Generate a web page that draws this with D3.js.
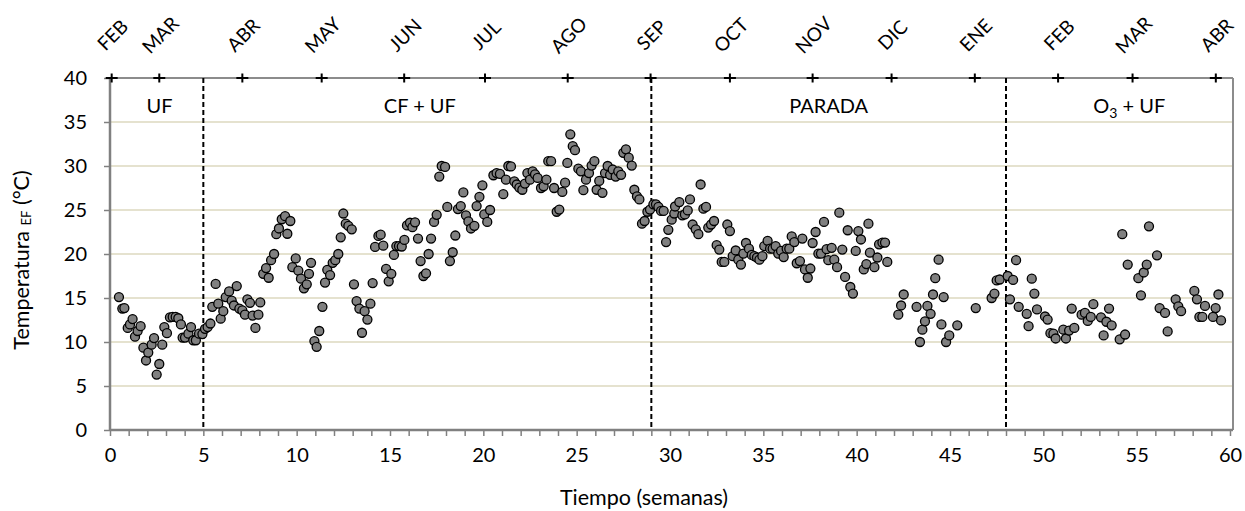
<!DOCTYPE html>
<html>
<head>
<meta charset="utf-8">
<script src="https://cdn.jsdelivr.net/npm/d3@7"></script>
<style>
  body { margin: 0; background: #ffffff; }
  text { font-family: Lato, "Open Sans", sans-serif; fill: #000; }
</style>
</head>
<body>
<script>
// month marks on the top axis (week where each month begins)
const meses = ["FEB","MAR","ABR","MAY","JUN","JUL","AGO","SEP","OCT","NOV","DIC","ENE","FEB","MAR","ABR"];
const mesSemana = [0.09, 2.64, 7.09, 11.34, 15.76, 20.09, 24.52, 28.96, 33.21, 37.64, 41.87, 46.33, 50.79, 54.78, 59.24];

// operating phases
const fases = ["UF", "CF + UF", "PARADA", "O3 + UF"];
const faseEtiqueta = [2.65, 16.6, 38.5, 54.6];
const cortes = [5, 29, 48];

const xTicks = [0, 5, 10, 15, 20, 25, 30, 35, 40, 45, 50, 55, 60];
const yTicks = [0, 5, 10, 15, 20, 25, 30, 35, 40];

// [semana, temperatura]
const puntos = [
  [0.48,15.1],[0.66,13.8],[0.77,13.85],[0.95,11.6],[1.07,12.0],[1.21,12.6],[1.34,10.6],[1.48,11.25],[1.64,11.8],
  [1.79,9.35],[1.93,7.9],[2.05,8.8],[2.23,9.7],[2.36,10.45],[2.5,6.3],[2.64,7.5],[2.8,9.7],[2.91,11.7],[3.05,11.0],
  [3.21,12.8],[3.36,12.85],[3.52,12.85],[3.66,12.7],[3.8,12.0],[3.89,10.5],[4.02,10.5],[4.2,10.95],[4.34,11.7],
  [4.46,10.2],[4.6,10.2],[4.77,10.95],[4.95,10.9],[5.09,11.5],[5.23,11.7],[5.38,12.1],[5.48,14.0],[5.66,16.6],
  [5.8,14.35],[5.93,12.65],[6.07,13.5],[6.2,15.1],[6.38,15.75],[6.52,14.7],[6.64,14.15],[6.79,16.35],[6.93,13.8],
  [7.09,13.6],[7.23,13.1],[7.36,14.85],[7.5,14.45],[7.64,13.0],[7.79,11.6],[7.95,13.1],[8.05,14.5],[8.21,17.75],
  [8.36,18.4],[8.5,17.3],[8.63,19.3],[8.79,20.0],[8.91,22.25],[9.05,22.9],[9.2,23.95],[9.38,24.3],[9.5,22.3],
  [9.66,23.75],[9.77,18.5],[9.95,19.5],
  [10.09,18.1],[10.23,17.2],[10.39,16.1],[10.54,16.55],[10.66,17.75],[10.77,19.0],[10.95,10.1],[11.07,9.45],
  [11.21,11.25],[11.38,14.0],[11.52,16.75],[11.64,18.2],[11.79,17.6],[11.93,19.0],[12.07,19.3],[12.23,20.0],
  [12.36,21.9],[12.5,24.6],[12.63,23.45],[12.77,23.2],[12.95,22.8],[13.07,16.55],[13.21,14.65],[13.36,13.8],
  [13.5,11.05],[13.64,13.5],[13.79,12.55],[13.95,14.35],[14.07,16.7],[14.2,20.8],[14.38,22.05],[14.5,22.2],
  [14.64,20.95],[14.79,18.3],[14.93,16.9],[15.07,17.75],[15.21,19.9],[15.34,20.9],[15.48,20.9],[15.63,20.85],
  [15.77,21.6],[15.91,23.25],[16.07,23.55],[16.2,23.05],[16.34,23.6],[16.5,21.75],[16.64,19.2],[16.79,17.5],
  [16.93,17.8],[17.07,20.0],[17.2,21.75],[17.36,23.65],[17.5,24.45],[17.64,28.8],[17.77,30.0],[17.95,29.9],
  [18.07,25.35],[18.21,19.2],[18.36,20.2],[18.5,22.1],[18.64,25.1],[18.79,25.45],[18.93,27.0],[19.07,24.4],
  [19.2,23.7],[19.34,22.9],[19.52,23.2],[19.64,25.45],[19.79,26.5],[19.95,27.8],[20.05,24.5],[20.21,23.65],
  [20.36,25.0],
  [20.54,28.95],[20.71,29.2],[20.89,29.1],[21.07,26.8],[21.21,28.45],[21.34,30.0],[21.48,29.95],[21.66,28.25],
  [21.79,27.9],[21.93,27.55],[22.09,27.3],[22.23,28.0],[22.36,29.2],[22.5,28.45],[22.64,29.4],[22.77,29.05],
  [22.91,28.65],[23.09,27.5],[23.23,27.7],[23.38,28.45],[23.48,30.55],[23.63,30.55],[23.79,27.5],[23.93,24.8],
  [24.07,25.05],[24.23,27.05],[24.38,28.1],[24.5,30.35],[24.66,33.6],[24.79,32.25],[24.91,31.8],[25.09,29.7],
  [25.23,29.4],[25.36,27.25],[25.5,28.45],[25.66,29.2],[25.8,30.05],[25.95,30.55],[26.07,27.3],[26.21,28.3],
  [26.38,26.95],[26.52,29.2],[26.66,30.0],[26.79,29.0],[26.93,29.6],[27.09,28.8],[27.23,29.4],[27.38,29.0],
  [27.5,31.5],[27.64,31.9],[27.79,30.95],[27.95,30.05],[28.09,27.3],[28.23,26.55],[28.36,26.2],[28.5,23.45],
  [28.64,23.75],[28.79,24.8],[28.93,25.05],[29.11,25.65],[29.25,25.65],[29.38,25.35],[29.52,24.9],[29.66,24.9],
  [29.79,21.35],[29.91,22.75],[30.09,23.9],[30.23,24.6],
  [30.27,25.4],[30.5,25.9],[30.66,24.4],[30.8,24.5],[30.95,24.95],[31.07,26.2],[31.21,23.35],[31.38,22.8],
  [31.52,22.25],[31.64,27.9],[31.79,25.15],[31.93,25.35],[32.05,23.0],[32.2,23.35],[32.36,23.75],[32.5,21.0],
  [32.64,20.5],[32.77,19.1],[32.91,19.1],[33.07,23.35],[33.21,22.6],[33.36,19.75],[33.52,20.4],[33.66,19.35],
  [33.8,18.8],[33.93,20.05],[34.07,21.25],[34.23,20.6],[34.38,19.9],[34.52,19.75],[34.66,19.6],[34.79,19.35],
  [34.95,19.75],[35.05,20.9],[35.23,21.5],[35.36,20.6],[35.5,20.6],[35.66,20.9],[35.8,20.05],[35.95,20.35],
  [36.09,19.65],[36.25,20.6],[36.39,20.6],[36.52,22.0],[36.66,21.35],[36.79,18.95],[36.96,19.2],[37.09,21.75],
  [37.23,18.25],[37.38,17.3],[37.52,18.35],[37.64,21.25],[37.8,22.5],[37.95,20.05],[38.09,20.05],[38.25,23.65],
  [38.39,20.55],[38.48,19.3],[38.66,20.7],[38.8,19.35],[38.95,18.5],[39.07,24.7],[39.23,20.5],[39.38,17.4],
  [39.52,22.7],[39.66,16.25],[39.8,15.5],[39.95,20.35],[40.09,22.6],[40.23,21.65],[40.38,18.25],[40.52,18.85],
  [40.63,23.45],[40.71,20.15],
  [40.95,18.5],[41.11,19.6],[41.2,21.1],[41.38,21.3],[41.52,21.3],[41.64,19.1],[42.23,13.1],[42.38,14.15],
  [42.52,15.4],[43.21,14.0],[43.39,10.0],[43.52,11.4],[43.66,12.35],[43.79,14.1],[43.96,13.2],[44.09,15.4],
  [44.21,17.25],[44.39,19.35],[44.54,12.0],[44.66,15.1],[44.79,10.0],[44.96,10.75],[45.39,11.9],[46.38,13.85],
  [47.23,15.0],[47.38,15.5],[47.5,17.0],[47.66,17.1],[48.09,17.5],[48.21,14.85],[48.38,17.05],[48.54,19.3],
  [48.68,14.0],[49.11,13.2],[49.21,11.8],[49.38,17.2],[49.52,15.5],[49.66,13.7],[50.09,12.9],[50.23,12.55],
  [50.38,11.0],[50.54,10.95],[50.66,10.4],
  [51.07,11.4],[51.21,10.4],[51.38,11.3],[51.52,13.8],[51.66,11.6],[52.05,13.1],[52.23,13.3],[52.38,12.4],
  [52.54,12.85],[52.68,14.3],[53.09,12.8],[53.23,10.75],[53.38,12.3],[53.52,13.8],[53.66,11.9],[54.09,10.3],
  [54.23,22.25],[54.38,10.85],[54.52,18.8],[55.09,17.25],[55.23,15.3],[55.38,17.9],[55.54,18.8],[55.66,23.15],
  [56.09,19.85],[56.23,13.85],[56.52,13.3],[56.66,11.2],[57.09,14.85],[57.23,14.05],[57.38,13.5],[58.09,15.8],
  [58.23,14.85],[58.36,12.85],[58.52,12.85],[58.66,14.1],[59.09,12.85],[59.23,13.85],[59.38,15.4],[59.52,12.45]
];

const W = 1245, H = 511;
// plot edges (px)
const pL = 110, pR = 1230, pT = 78, pB = 430;
const frameRight = 1233;
const fs = 20;

const svg = d3.select("body").append("svg")
  .attr("width", W)
  .attr("height", H);

const x = d3.scaleLinear().domain([0, 60]).range([pL, pR]);
const y = d3.scaleLinear().domain([0, 40]).range([pB, pT]);

// gridlines
svg.append("g")
  .selectAll("line")
  .data(yTicks.filter(d => d > 0 && d < 40))
  .join("line")
  .attr("x1", pL).attr("x2", frameRight)
  .attr("y1", d => y(d)).attr("y2", d => y(d))
  .attr("stroke", "#ddd8bf")
  .attr("stroke-width", 1.5);

// frame: top and right
svg.append("line")
  .attr("x1", pL).attr("x2", frameRight)
  .attr("y1", pT).attr("y2", pT)
  .attr("stroke", "#8c8c8c").attr("stroke-width", 2);
svg.append("line")
  .attr("x1", frameRight).attr("x2", frameRight)
  .attr("y1", pT).attr("y2", pB)
  .attr("stroke", "#8c8c8c").attr("stroke-width", 2);

// bottom axis
const xAxis = d3.axisBottom(x)
  .tickValues(d3.range(0, 61, 1))
  .tickSize(6)
  .tickFormat(d => xTicks.includes(d) ? d : "");
const gx = svg.append("g")
  .attr("transform", `translate(0,${pB})`)
  .call(xAxis);
gx.select(".domain").attr("stroke", "#808080").attr("stroke-width", 2.5)
  .attr("d", `M${pL},0H${frameRight}`);
gx.selectAll(".tick line").attr("stroke", "#808080").attr("stroke-width", 1.5);
gx.selectAll(".tick text")
  .attr("y", 18)
  .attr("font-size", fs)
  .attr("font-family", "Lato, sans-serif")
  .attr("fill", "#000");

// left axis
const yAxis = d3.axisLeft(y)
  .tickValues(yTicks)
  .tickSize(6);
const gy = svg.append("g")
  .attr("transform", `translate(${pL},0)`)
  .call(yAxis);
gy.select(".domain").attr("stroke", "#808080").attr("stroke-width", 2.5)
  .attr("d", `M0,${pT}V${pB}`);
gy.selectAll(".tick line").attr("stroke", "#808080").attr("stroke-width", 1.5);
gy.selectAll(".tick text")
  .attr("x", -23)
  .attr("font-size", fs)
  .attr("font-family", "Lato, sans-serif")
  .attr("fill", "#000");

// phase separators
svg.append("g")
  .selectAll("line")
  .data(cortes)
  .join("line")
  .attr("x1", d => x(d)).attr("x2", d => x(d))
  .attr("y1", pT).attr("y2", pB)
  .attr("stroke", "#000")
  .attr("stroke-width", 2)
  .attr("stroke-dasharray", "5,3");

// month markers "+"
const marks = svg.append("g")
  .selectAll("g")
  .data(mesSemana)
  .join("g")
  .attr("transform", d => `translate(${x(d)},${pT})`);
marks.append("line").attr("x1", -6).attr("x2", 6).attr("y1", 0).attr("y2", 0)
  .attr("stroke", "#000").attr("stroke-width", 2);
marks.append("line").attr("x1", 0).attr("x2", 0).attr("y1", -4.5).attr("y2", 4.5)
  .attr("stroke", "#000").attr("stroke-width", 2);

// month labels, slanted 45 degrees
const ml = svg.append("g")
  .selectAll("g")
  .data(meses)
  .join("g")
  .attr("transform", (d, i) => `translate(${x(mesSemana[i]) + 1},35)`);
ml.append("text")
  .attr("transform", "rotate(-45)")
  .attr("text-anchor", "middle")
  .attr("dy", "0.36em")
  .attr("font-size", 19)
  .text(d => d);

// phase labels
const fl = svg.append("g")
  .selectAll("text")
  .data(fases)
  .join("text")
  .attr("x", (d, i) => x(faseEtiqueta[i]))
  .attr("y", 113)
  .attr("text-anchor", "middle")
  .attr("font-size", fs);
fl.each(function(d) {
  const t = d3.select(this);
  if (d.startsWith("O3")) {
    t.append("tspan").text("O");
    t.append("tspan").attr("font-size", 14).attr("dy", 5).text("3");
    t.append("tspan").attr("dy", -5).text(" + UF");
  } else {
    t.text(d);
  }
});

// points
svg.append("g")
  .selectAll("circle")
  .data(puntos)
  .join("circle")
  .attr("cx", d => x(d[0]))
  .attr("cy", d => y(d[1]))
  .attr("r", 4.5)
  .attr("fill", "#808080")
  .attr("stroke", "#000")
  .attr("stroke-width", 1.3);

// axis titles
const yt = svg.append("text")
  .attr("transform", `translate(28.5,260) rotate(-90)`)
  .attr("text-anchor", "middle")
  .attr("font-size", 21.5);
yt.append("tspan").text("Temperatura ");
yt.append("tspan").attr("font-size", 13).attr("dy", 2).text("EF");
yt.append("tspan").attr("dy", -2).text(" (°C)");

svg.append("text")
  .attr("x", 644)
  .attr("y", 505)
  .attr("text-anchor", "middle")
  .attr("font-size", 21.5)
  .text("Tiempo (semanas)");
</script>
</body>
</html>
